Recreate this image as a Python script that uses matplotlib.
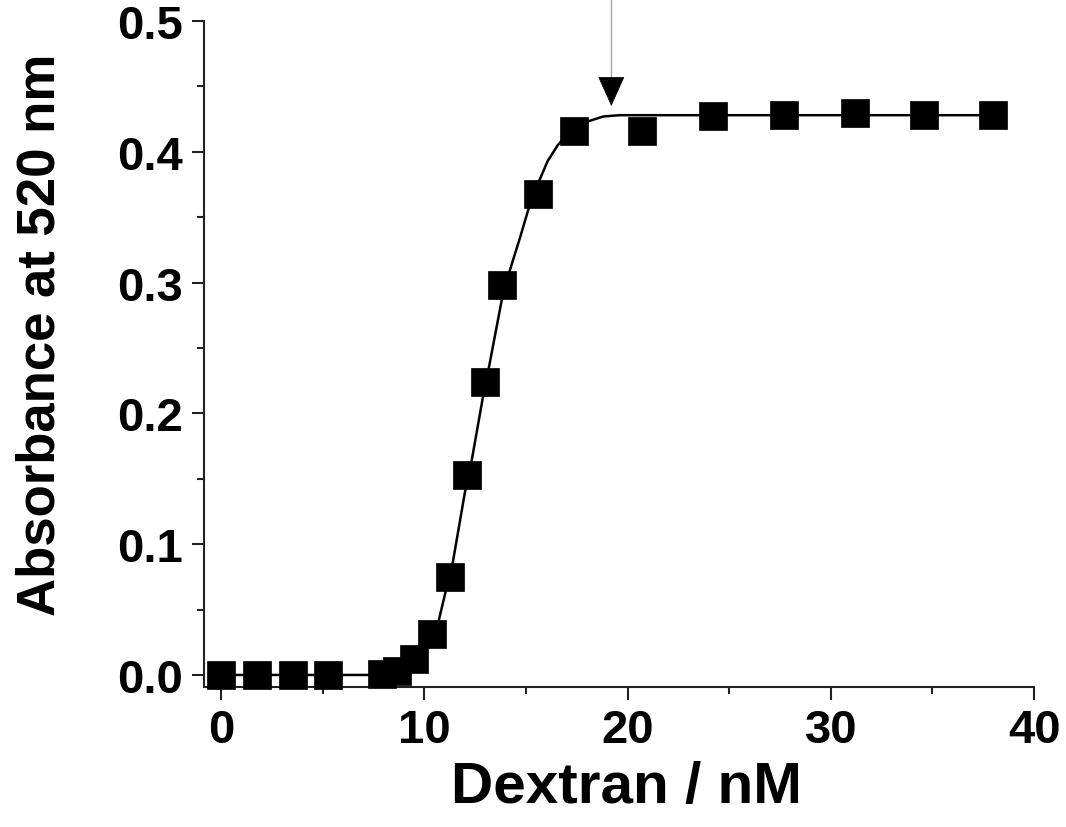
import numpy as np
import matplotlib
matplotlib.use("Agg")
from matplotlib import pyplot as plt
from matplotlib.ticker import MultipleLocator

# measured points
dextran = [0.0, 1.77, 3.54, 5.26, 7.9, 8.65, 9.5, 10.4, 11.25, 12.1, 13.0, 13.8,
           15.6, 17.35, 20.7, 24.2, 27.7, 31.2, 34.6, 38.0]
absorb = [0.0, 0.0, 0.0, 0.0, 0.001, 0.003, 0.012, 0.031, 0.075, 0.153, 0.224, 0.298,
          0.368, 0.416, 0.416, 0.427, 0.428, 0.430, 0.428, 0.428]

# fitted curve
fit_x = [0.0, 7.2, 8.0, 8.5, 9.0, 9.5, 10.0, 10.4, 10.7, 11.05, 11.4, 12.0, 12.33,
         12.9, 13.2, 13.8, 14.2, 14.7, 15.1, 15.6, 16.07, 16.56, 17.0, 17.5, 18.0,
         18.8, 19.6, 24.0, 30.0, 38.0]
fit_y = [0.0, 0.0, 0.0005, 0.002, 0.006, 0.012, 0.021, 0.030, 0.041, 0.064, 0.086,
         0.140, 0.164, 0.214, 0.237, 0.286, 0.309, 0.334, 0.355, 0.376, 0.393, 0.405,
         0.413, 0.419, 0.423, 0.427, 0.428, 0.428, 0.428, 0.428]

arrow_x = 19.2

plt.rcParams['font.family'] = ['Liberation Sans', 'DejaVu Sans']
plt.rcParams['font.weight'] = 'bold'

fig = plt.figure(figsize=(10.66, 8.28), dpi=100)
ax = fig.add_axes([0.1914, 0.1691, 0.7796, 0.8043])

ax.plot(fit_x, fit_y, color='black', lw=1.8, zorder=2)
ax.plot(dextran, absorb, ls='none', marker='s', ms=20.5, mfc='black', mec='black',
        mew=0.5, zorder=3, clip_on=False)

# arrow marking the end point
ax.plot([arrow_x, arrow_x], [0.445, 0.517], color='0.65', lw=1, clip_on=False)
ax.annotate('', xy=(arrow_x, 0.435), xytext=(arrow_x, 0.457),
            arrowprops=dict(arrowstyle='-|>,head_length=1.0,head_width=0.45',
                            mutation_scale=20, color='black', lw=0.5,
                            shrinkA=0, shrinkB=0),
            annotation_clip=False)

ax.set_xlim(-0.84, 40.05)
ax.set_ylim(-0.0092, 0.5)
ax.set_xticks([0, 10, 20, 30, 40])
ax.set_yticks([0.0, 0.1, 0.2, 0.3, 0.4, 0.5])
ax.set_yticklabels(['0.0', '0.1', '0.2', '0.3', '0.4', '0.5'])
ax.xaxis.set_minor_locator(MultipleLocator(5))
ax.yaxis.set_minor_locator(MultipleLocator(0.05))

for s in ['top', 'right']:
    ax.spines[s].set_visible(False)
for s in ['left', 'bottom']:
    ax.spines[s].set_linewidth(1.5)
    ax.spines[s].set_color('#222222')
ax.spines['bottom'].set_bounds(-0.84, 40.0)

ax.tick_params(which='major', direction='out', length=9, width=1.5, labelsize=34,
               pad=6, color='#222222')
ax.tick_params(which='minor', direction='out', length=5, width=1.5, color='#222222')

ax.set_xlabel('Dextran / nM', fontsize=42, fontweight='bold')
ax.set_ylabel('Absorbance at 520 nm', fontsize=38, fontweight='bold')
ax.xaxis.set_label_coords(0.508, -0.11)
ax.yaxis.set_label_coords(-0.167, 0.53)

fig.savefig('out.png', dpi=100)
